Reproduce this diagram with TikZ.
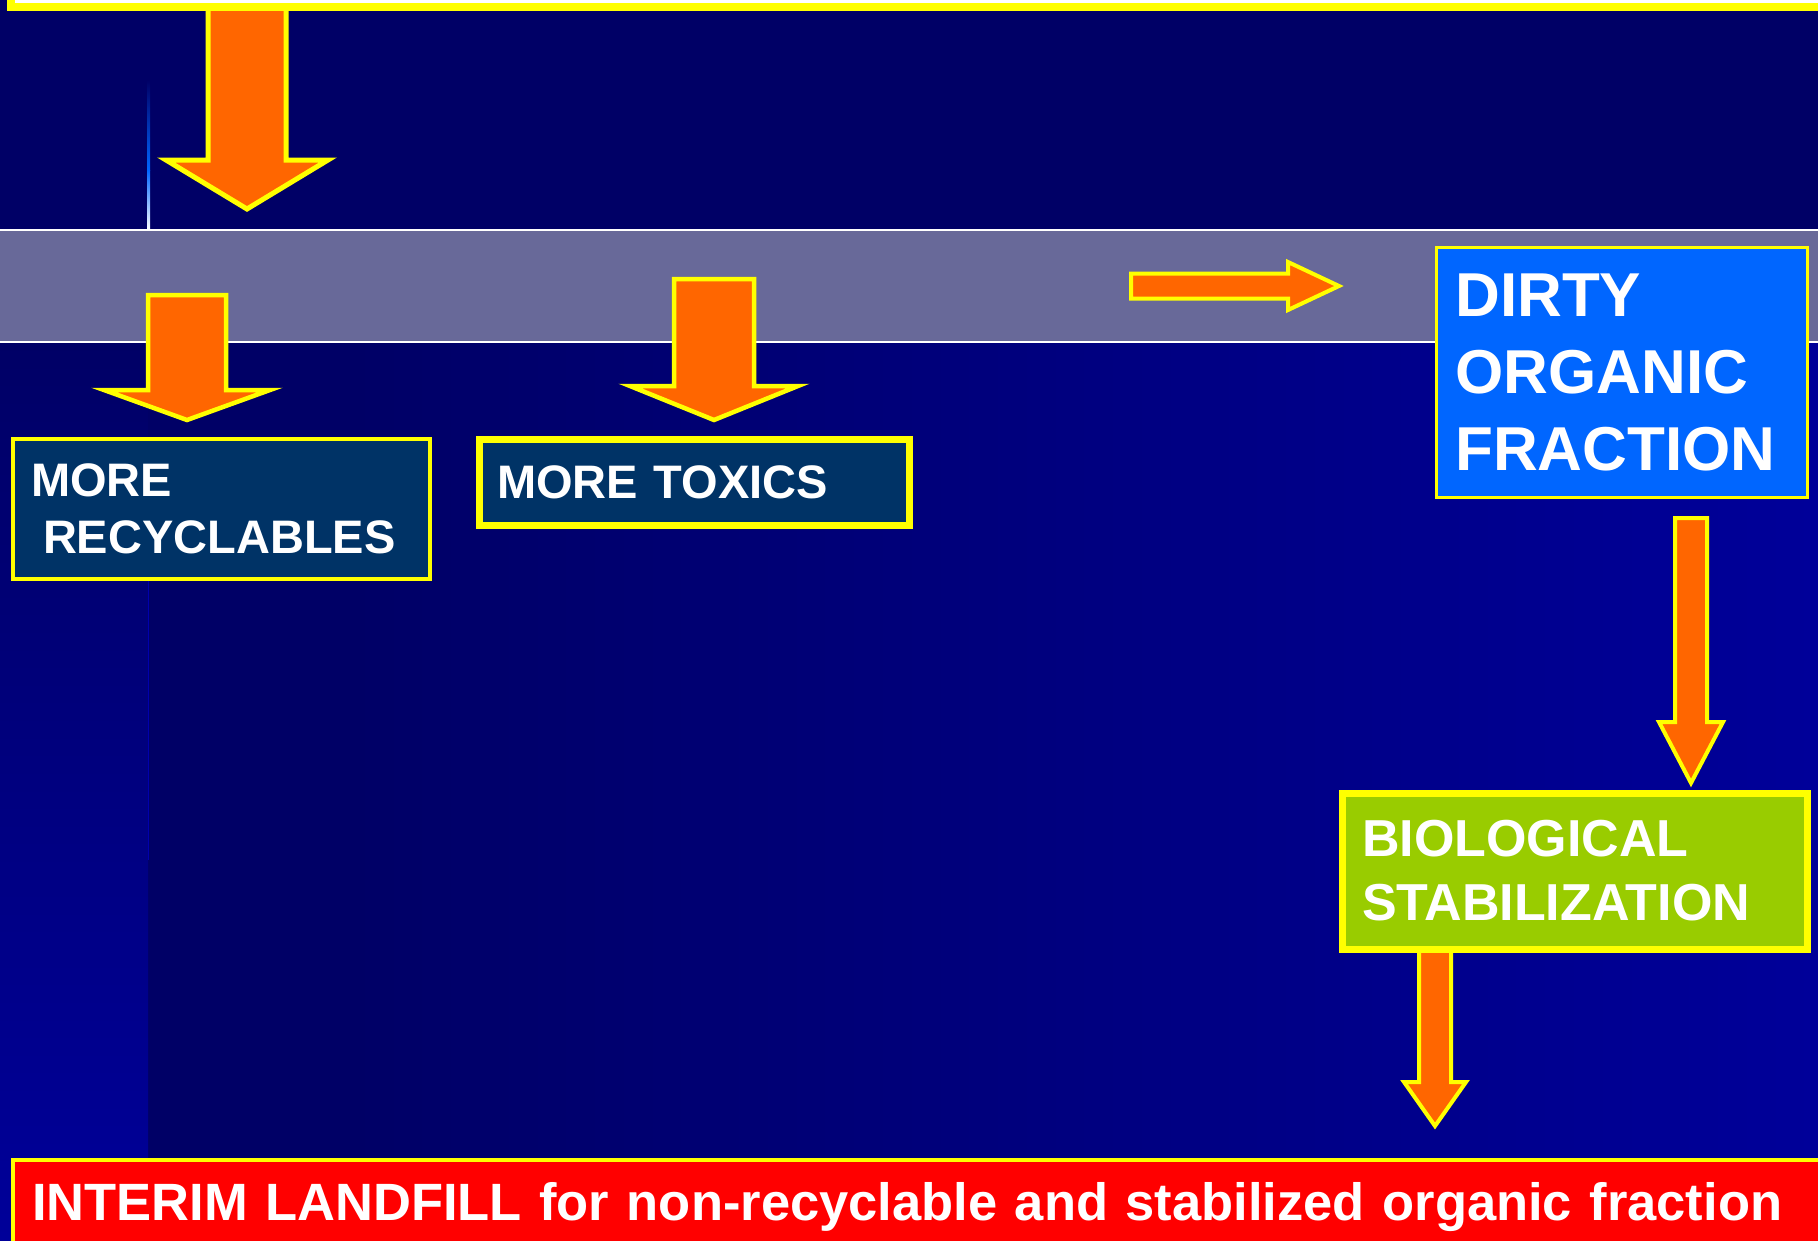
\documentclass[tikz,border=0pt]{standalone}
\usepackage{fontspec}
\setmainfont{Liberation Sans}
\definecolor{navy}{HTML}{000066}
\definecolor{blueN}{HTML}{000099}
\definecolor{bandc}{HTML}{686999}
\definecolor{recfill}{HTML}{003366}
\definecolor{dirtyfill}{HTML}{0066FF}
\definecolor{biofill}{HTML}{99CC00}
\definecolor{arroworange}{HTML}{FF6600}
\definecolor{ylw}{HTML}{FFFF00}
\definecolor{landred}{HTML}{FF0000}
\definecolor{midblue}{HTML}{0066FF}
\newcommand{\dnblockarrow}[7]{% cx, top, neck, tip, half shaft, half head, line width
  \draw[barrow, line width=#7] ({#1-#5},#2) -- ({#1+#5},#2) -- ({#1+#5},#3) -- ({#1+#6},#3) -- (#1,#4) -- ({#1-#6},#3) -- ({#1-#5},#3) -- cycle;}
\tikzset{
  barrow/.style={fill=arroworange, draw=ylw, line join=miter},
  boxnode/.style={draw=ylw, anchor=north west, align=left, text=white, inner ysep=0pt},
}
\begin{document}
\begin{tikzpicture}[x=1pt,y=-1pt]
\useasboundingbox (0,0) rectangle (1818,1240);
\clip (0,0) rectangle (1818,1240);
% background
\fill[navy] (0,0) rectangle (1818,1240);
\shade[left color=navy, right color=blueN] (350,342) rectangle (1818,1240);
\shade[top color=navy, bottom color=blueN] (0,342) rectangle (148,1240);
\fill[blueN!80!blue] (147.5,580) rectangle (149,860);
% thin vertical line above band
\shade[top color=navy, bottom color=midblue] (147,80) rectangle (150,170);
\shade[top color=midblue, bottom color=white] (147,170) rectangle (150,230);
% band
\fill[bandc] (0,230) rectangle (1818,342);
\draw[white, line width=2.2] (0,230) -- (1818,230);
\draw[white, line width=2.2] (0,342) -- (1818,342);
% arrows
\dnblockarrow{247}{-10}{160}{209}{39}{81}{5}
\dnblockarrow{187}{295}{390}{420}{39}{83}{4.5}
\dnblockarrow{714}{279}{386}{420}{40}{84}{4.5}
\draw[barrow, line width=4] (1131,273.5) -- (1288,273.5) -- (1288,262) -- (1339,286) -- (1288,310) -- (1288,298.5) -- (1131,298.5) -- cycle;
\dnblockarrow{1691}{518}{722}{783}{16}{32}{4}
\dnblockarrow{1435}{945}{1082}{1126}{16}{31}{4}
% top bar
\draw[ylw, line width=8, fill=white] (11,-40) rectangle (1840,7);
% boxes
\node[boxnode, fill=recfill, line width=4, minimum width=417, minimum height=140,
      inner xsep=18, text width=381, font=\fontsize{47}{57}\selectfont\bfseries]
      (rec) at (11,437) {MORE\\\hspace*{12pt}RECYCLABLES};
\node[boxnode, fill=recfill, line width=7, minimum width=430, minimum height=86,
      inner xsep=18, text width=394, font=\fontsize{47}{57}\selectfont\bfseries]
      (tox) at (475.5,436) {MORE TOXICS};
\node[boxnode, fill=dirtyfill, line width=2.5, minimum width=371, minimum height=250,
      inner xsep=19, text width=333, font=\fontsize{62}{77}\selectfont\bfseries]
      (dirty) at (1435,246) {DIRTY\\ORGANIC\\FRACTION};
\node[boxnode, fill=biofill, line width=7, minimum width=465, minimum height=156,
      inner xsep=20, text width=425, font=\fontsize{52}{64}\selectfont\bfseries]
      (bio) at (1338.5,789.5) {BIOLOGICAL\\STABILIZATION};
\node[boxnode, fill=landred, line width=4, minimum width=1830, minimum height=94,
      inner xsep=19, text width=1792, font=\fontsize{52.5}{60}\selectfont\bfseries]
      (land) at (11,1158) {INTERIM LANDFILL for non-recyclable and stabilized organic fraction};
\end{tikzpicture}
\end{document}
